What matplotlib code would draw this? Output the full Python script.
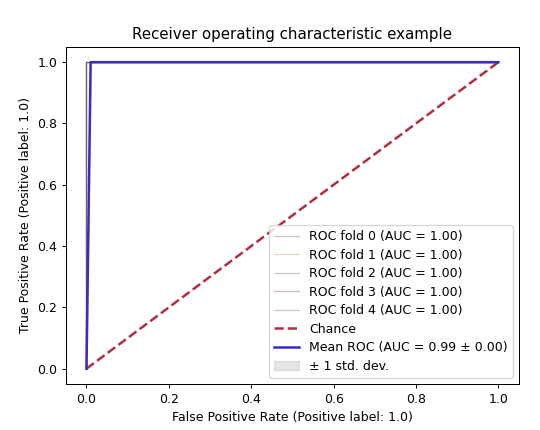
import matplotlib
matplotlib.use("Agg")
import matplotlib.pyplot as plt
import numpy as np

fold_fpr = [[0.0, 0.0, 1.0]] * 5
fold_tpr = [[0.0, 1.0, 1.0]] * 5
fold_auc = [1.00, 1.00, 1.00, 1.00, 1.00]

mean_fpr = [0.0, 0.0101, 1.0]
mean_tpr = [0.0, 1.0, 1.0]
mean_auc = 0.99
std_auc = 0.00
std_tpr = [0.0, 0.0, 0.0]

chance_x = [0, 1]
chance_y = [0, 1]

fold_colors = ["#3a4869", "#a58400", "#4e4e5c", "#910010", "#4e4e70"]

fig = plt.figure(figsize=(6.0, 430 / 90), dpi=90)
ax = fig.add_axes([0.122, 0.107, 0.839, 0.784])

for i in range(5):
    ax.plot(fold_fpr[i], fold_tpr[i], lw=1, alpha=0.3, color=fold_colors[i],
            label=f"ROC fold {i} (AUC = {fold_auc[i]:.2f})")

ax.plot(chance_x, chance_y, linestyle="--", lw=2, color="#b32d40", label="Chance")
ax.plot(mean_fpr, mean_tpr, color="#372dc3", lw=2,
        label="Mean ROC (AUC = %0.2f \u00b1 %0.2f)" % (mean_auc, std_auc))
upper = np.minimum(np.array(mean_tpr) + np.array(std_tpr), 1)
lower = np.maximum(np.array(mean_tpr) - np.array(std_tpr), 0)
ax.fill_between(mean_fpr, lower, upper, color="grey", alpha=0.2, label="\u00b1 1 std. dev.")

ax.set_xlim(-0.05, 1.05)
ax.set_ylim(-0.05, 1.05)
ax.set_title("Receiver operating characteristic example")
ax.set_xlabel("False Positive Rate (Positive label: 1.0)")
ax.set_ylabel("True Positive Rate (Positive label: 1.0)")
ax.legend(loc="lower right", labelspacing=0.44)

fig.savefig("out.png", dpi=90)
